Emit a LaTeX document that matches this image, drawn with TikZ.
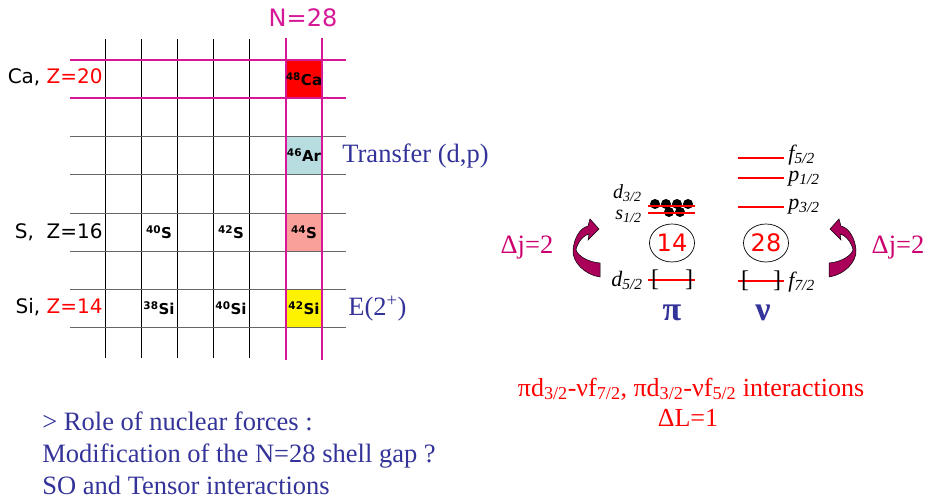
\documentclass[tikz,border=0pt]{standalone}
\usepackage{fontspec}
\setmainfont{Liberation Serif}
\newfontfamily\chartfont{DejaVu Sans}
\usetikzlibrary{positioning,shapes.geometric}
\definecolor{nmag}{RGB}{214,24,150}
\definecolor{jmag}{RGB}{204,0,110}
\definecolor{txtblue}{RGB}{51,51,153}
\definecolor{arrfill}{RGB}{170,0,90}
\definecolor{arcell}{RGB}{184,221,224}
\definecolor{scell}{RGB}{250,160,155}

\begin{document}
\begin{tikzpicture}[
    x=1pt, y=-1pt,
    line width=0.8pt,
    gridv/.style={black, line width=0.8pt},
    gridh/.style={black!60, line width=0.8pt},
    shell/.style={nmag, line width=2.4pt},
    nucl/.style={font=\chartfont\bfseries\fontsize{15}{15}\selectfont, inner sep=0pt},
    zlabel/.style={font=\chartfont\fontsize{20}{20}\selectfont, anchor=east, inner sep=0pt},
    note/.style={font=\fontsize{26.5}{26.5}\selectfont, text=txtblue, inner sep=0pt, anchor=base west},
    redtext/.style={font=\fontsize{26}{26}\selectfont, text=red, inner sep=0pt},
    orbit/.style={red, line width=1.4pt},
    orblab/.style={font=\fontsize{22}{22}\selectfont\itshape, inner sep=0pt},
    smalllab/.style={font=\fontsize{20}{20}\selectfont\itshape, inner sep=0pt, anchor=east},
    bracket/.style={font=\fontsize{24}{24}\selectfont, inner sep=0pt},
    magic/.style={draw, ellipse, line width=0.7pt, minimum width=45pt, minimum height=38pt, inner sep=0pt,
        text=red, font=\chartfont\fontsize{24}{24}\selectfont},
    deltaj/.style={font=\fontsize{26.5}{26.5}\selectfont, text=jmag, inner sep=0pt},
    iso/.style={font=\bfseries\fontsize{34}{34}\selectfont, text=txtblue, inner sep=0pt},
    twist/.pic={
        \filldraw[fill=arrfill, draw=black, line width=0.5pt] (14,27) .. controls (-1,25) and (-14,12) .. (-13,0)
            .. controls (-12,-12) and (-6,-22) .. (2,-24) -- (4,-31) -- (13,-21) -- (2,-10) -- (3,-16)
            .. controls (-4,-14) and (-9,-6) .. (-10,0) .. controls (-8,6) and (2,12) .. (14,13) -- cycle;
    }
]
\useasboundingbox (0,0) rectangle (931,502);

\fill[red] (286,60) rectangle (322,98);
\fill[arcell] (286,136) rectangle (322,174);
\fill[scell] (286,213) rectangle (322,251);
\fill[yellow] (286,289) rectangle (322,327);

\foreach \x in {105,141,177,213,249}
    \draw[gridv] (\x,39) -- (\x,358);
\foreach \y in {136,174,213,251,289,327}
    \draw[gridh] (70,\y) -- (346,\y);
\foreach \y in {60,98}
    \draw[shell] (70,\y) -- (346,\y);
\foreach \x in {286,322}
    \draw[shell] (\x,38) -- (\x,360);

\node[font=\chartfont\fontsize{24}{24}\selectfont, text=nmag] (nmagic) at (303,18) {N=28};

\node[zlabel] (calab) at (103,77) {Ca, \textcolor{red}{Z=20}};
\node[zlabel] (slab) at (103,232) {S,\ \ Z=16};
\node[zlabel] (silab) at (103,307) {Si, \textcolor{red}{Z=14}};

\node[nucl] (ca48) at (304,79) {\textsuperscript{48}Ca};
\node[nucl] (ar46) at (304,155) {\textsuperscript{46}Ar};
\node[nucl] (s40) at (159,232) {\textsuperscript{40}S};
\node[nucl] (s42) at (231,232) {\textsuperscript{42}S};
\node[nucl] (s44) at (304,232) {\textsuperscript{44}S};
\node[nucl] (si38) at (159,308) {\textsuperscript{38}Si};
\node[nucl] (si40) at (231,308) {\textsuperscript{40}Si};
\node[nucl] (si42) at (304,308) {\textsuperscript{42}Si};

\node[note] (transfer) at (342,163) {Transfer (d,p)};
\node[note] (etwo) at (348,316) {E(2\textsuperscript{+})};

\foreach \x in {655,666,677,688}
    \fill (\x,204) circle (5pt);
\foreach \x in {669,680}
    \fill (\x,212) circle (5pt);
\draw[orbit] (648,206) -- (695,206);
\draw[orbit] (648,213) -- (695,213);
\draw[orbit] (648,280) -- (695,280);
\draw[orbit] (738,158) -- (784,158);
\draw[orbit] (738,178) -- (784,178);
\draw[orbit] (738,207) -- (784,207);
\draw[orbit] (738,281) -- (784,281);

\node[smalllab] (d32) at (642,193) {d\textsubscript{3/2}};
\node[smalllab] (s12) at (642,216) {s\textsubscript{1/2}};
\node[orblab, anchor=east] (d52) at (643,280) {d\textsubscript{5/2}};
\node[orblab, anchor=west] (f52) at (788,155) {f\textsubscript{5/2}};
\node[orblab, anchor=west] (p12) at (788,179) {p\textsubscript{1/2}};
\node[orblab, anchor=west] (p32) at (788,207) {p\textsubscript{3/2}};
\node[orblab, anchor=west] (f72) at (788,282) {f\textsubscript{7/2}};

\node[bracket] (pbl) at (655,280) {[};
\node[bracket] (pbr) at (689,280) {]};
\node[bracket] (nbl) at (745,281) {[};
\node[bracket] (nbr) at (777,281) {]};

\node[magic] (pgap) at (672,243) {14};
\node[magic] (ngap) at (766,243) {28};

\node[iso] (prot) at (672,313) {π};
\node[iso] (neut) at (763,313) {ν};

\pic at (586,250) {twist};
\pic[xscale=-1] at (843,250) {twist};
\node[deltaj] (djleft) at (527,248) {Δj=2};
\node[deltaj] (djright) at (898,248) {Δj=2};

\node[redtext] (inter) at (691,389) {πd\textsubscript{3/2}-νf\textsubscript{7/2}, πd\textsubscript{3/2}-νf\textsubscript{5/2} interactions};
\node[redtext] (dell) at (688,418) {ΔL=1};

\node[note] (role) at (42,430) {> Role of nuclear forces :};
\node[note] (gap) at (42,462) {Modification of the N=28 shell gap ?};
\node[note] (sot) at (42,494) {SO and Tensor interactions};
\end{tikzpicture}
\end{document}
